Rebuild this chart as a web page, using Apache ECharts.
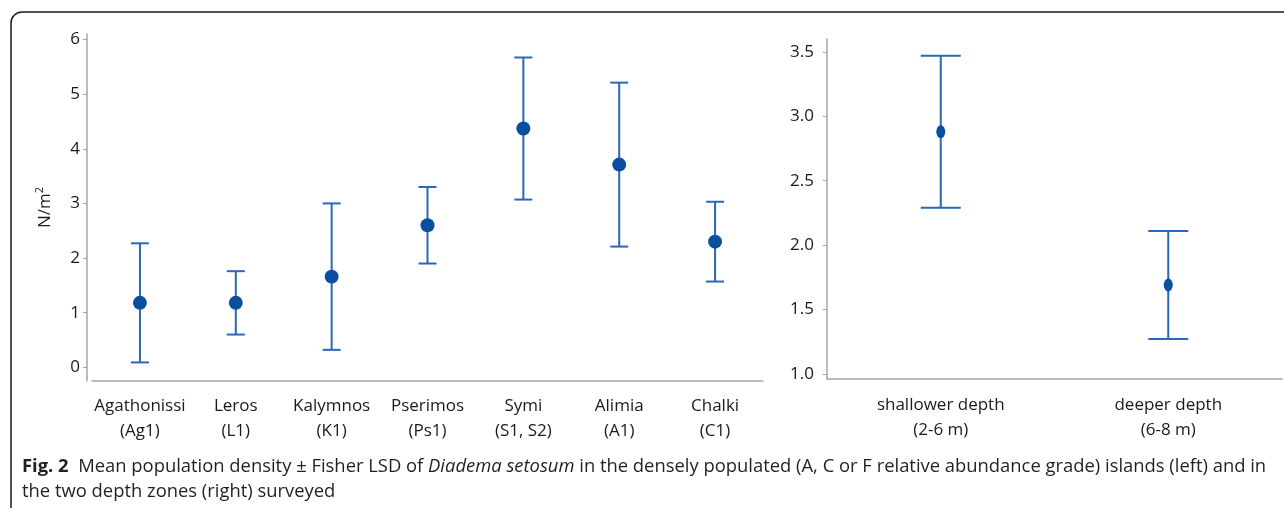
<!DOCTYPE html>
<html>
<head>
<meta charset="utf-8">
<script src="https://cdn.jsdelivr.net/npm/echarts@6/dist/echarts.min.js"></script>
<style>
  html, body { margin: 0; padding: 0; background: #fff; }
  #chart { width: 1284px; height: 508px; }
</style>
</head>
<body>
<div id="chart"></div>
<script>
// Island surveys: mean density (N/m²) and Fisher LSD half-width
const islands = [
  'Agathonissi\n(Ag1)', 'Leros\n(L1)', 'Kalymnos\n(K1)', 'Pserimos\n(Ps1)',
  'Symi\n(S1, S2)', 'Alimia\n(A1)', 'Chalki\n(C1)'
];
const islandMeans = [1.18, 1.18, 1.66, 2.60, 4.37, 3.71, 2.30];
const islandLsd   = [1.09, 0.58, 1.34, 0.70, 1.30, 1.50, 0.73];
const islandTicks = [0, 1, 2, 3, 4, 5, 6];

// Depth zones
const depths = ['shallower depth\n(2-6 m)', 'deeper depth\n(6-8 m)'];
const depthMeans = [2.88, 1.69];
const depthLsd   = [0.59, 0.42];
const depthTicks = [1.0, 1.5, 2.0, 2.5, 3.0, 3.5];

const BAR_COLOR = '#2a67b6';
const DOT_COLOR = '#0b4f9f';
const AXIS_COLOR = '#a6a6a6';
const TEXT_COLOR = '#1a1a1a';
const FONT = '"Open Sans", "Liberation Sans", sans-serif';

const rangeData = (means, lsd) => means.map((m, i) => [i, m - lsd[i], m + lsd[i]]);

function errorBars(capHalf) {
  return function (params, api) {
    const x = api.value(0);
    const top = api.coord([x, api.value(2)]);
    const bot = api.coord([x, api.value(1)]);
    const style = { stroke: BAR_COLOR, lineWidth: 2 };
    return {
      type: 'group',
      children: [
        { type: 'line', shape: { x1: top[0], y1: top[1], x2: bot[0], y2: bot[1] }, style },
        { type: 'line', shape: { x1: top[0] - capHalf, y1: top[1], x2: top[0] + capHalf, y2: top[1] }, style },
        { type: 'line', shape: { x1: bot[0] - capHalf, y1: bot[1], x2: bot[0] + capHalf, y2: bot[1] }, style }
      ]
    };
  };
}

const catAxis = (gridIndex, data, margin) => ({
  type: 'category',
  gridIndex,
  data,
  boundaryGap: true,
  axisLine: { onZero: false, lineStyle: { color: AXIS_COLOR, width: 1.5 } },
  axisTick: { alignWithLabel: true, interval: 0, length: 5, lineStyle: { color: AXIS_COLOR } },
  axisLabel: {
    interval: 0, color: TEXT_COLOR, fontFamily: FONT, fontSize: 17, lineHeight: 25, margin
  }
});

const valAxis = (gridIndex, min, max, ticks, fmt) => ({
  type: 'value',
  gridIndex,
  min, max,
  splitLine: { show: false },
  axisLine: { show: true, onZero: false, lineStyle: { color: AXIS_COLOR, width: 1.5 } },
  axisTick: { show: true, length: 4, customValues: ticks, lineStyle: { color: AXIS_COLOR } },
  axisLabel: {
    customValues: ticks, formatter: fmt, color: TEXT_COLOR,
    fontFamily: FONT, fontSize: 17, margin: 7
  }
});

const chart = echarts.init(document.getElementById('chart'), null, { renderer: 'canvas' });

const leftY = valAxis(0, -0.25, 6.1, islandTicks, v => String(Math.round(v)));
leftY.offset = 5;
leftY.name = 'N/m{s|2}';
leftY.nameLocation = 'middle';
leftY.nameRotate = 90;
leftY.nameGap = 31;
leftY.nameTextStyle = {
  color: TEXT_COLOR, fontFamily: FONT, fontSize: 17, lineHeight: 22,
  rich: { s: { fontSize: 11, verticalAlign: 'top', lineHeight: 22, fontFamily: FONT, color: TEXT_COLOR } }
};

const rightY = valAxis(1, 0.96, 3.6, depthTicks, v => v.toFixed(1));
rightY.axisLabel.margin = 13;

chart.setOption({
  animation: false,
  backgroundColor: '#ffffff',
  grid: [
    { left: 92, right: 521, top: 34, bottom: 127 },
    { left: 827, right: 2, top: 39, bottom: 129 }
  ],
  xAxis: [catAxis(0, islands, 13), catAxis(1, depths, 14)],
  yAxis: [leftY, rightY],
  series: [
    {
      type: 'custom', xAxisIndex: 0, yAxisIndex: 0,
      renderItem: errorBars(9), encode: { x: 0, y: [1, 2] },
      data: rangeData(islandMeans, islandLsd), z: 2
    },
    {
      type: 'scatter', xAxisIndex: 0, yAxisIndex: 0,
      symbol: 'circle', symbolSize: 14,
      itemStyle: { color: DOT_COLOR, opacity: 1 },
      data: islandMeans, z: 3
    },
    {
      type: 'custom', xAxisIndex: 1, yAxisIndex: 1,
      renderItem: errorBars(20), encode: { x: 0, y: [1, 2] },
      data: rangeData(depthMeans, depthLsd), z: 2
    },
    {
      type: 'scatter', xAxisIndex: 1, yAxisIndex: 1,
      symbol: 'circle', symbolSize: [9, 13],
      itemStyle: { color: DOT_COLOR, opacity: 1 },
      data: depthMeans, z: 3
    }
  ],
  graphic: [
    {
      type: 'rect', z: 10, silent: true,
      shape: { x: 11, y: 12, width: 1400, height: 600, r: 11 },
      style: { fill: 'none', stroke: '#1c1c1c', lineWidth: 1.5 }
    },
    {
      type: 'text', z: 10, left: 22, top: 454, silent: true,
      style: {
        text: '{b|Fig. 2}  Mean population density ± Fisher LSD of {i|Diadema setosum} in the densely populated (A, C or F relative abundance grade) islands (left) and in\nthe two depth zones (right) surveyed',
        fill: '#231f20', fontFamily: FONT, fontSize: 18.4, lineHeight: 25,
        rich: {
          b: { fontWeight: 'bold', fontFamily: FONT, fontSize: 18.4, fill: '#231f20', lineHeight: 25 },
          i: { fontStyle: 'italic', fontFamily: FONT, fontSize: 18.4, fill: '#231f20', lineHeight: 25 }
        }
      }
    }
  ]
});
</script>
</body>
</html>
